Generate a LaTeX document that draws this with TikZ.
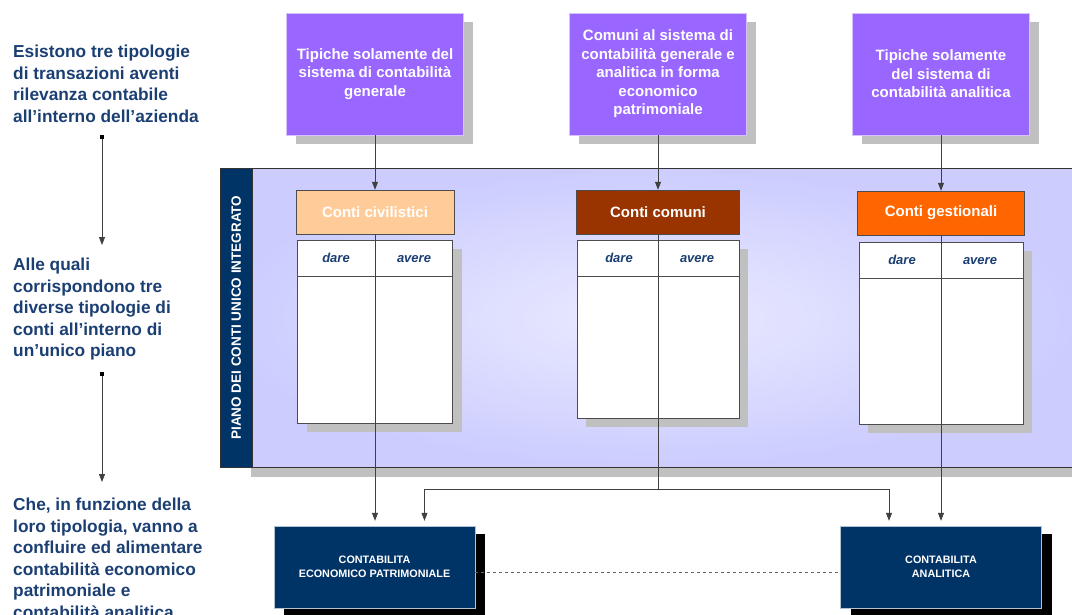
\documentclass[tikz,border=0pt]{standalone}
\usepackage{fontspec}
\setmainfont{Liberation Sans}
\usetikzlibrary{arrows.meta,shadows,positioning}

\definecolor{navy}{HTML}{003366}
\definecolor{textblue}{HTML}{1B3F73}
\definecolor{lilla}{HTML}{9966FF}
\definecolor{pesca}{HTML}{FFCC99}
\definecolor{mattone}{HTML}{993300}
\definecolor{arancio}{HTML}{FF6600}
\definecolor{pianobg}{HTML}{CCCCFF}
\definecolor{ombra}{HTML}{C0C0C0}

\begin{document}
\begin{tikzpicture}[x=1pt, y=-1pt,
    every node/.style={inner sep=0pt},
    leftnote/.style={anchor=north west, align=left, text=textblue, font=\fontsize{17.3}{21.5}\selectfont\bfseries},
    tipo/.style={fill=lilla, draw=white!60!lilla, minimum width=177pt, minimum height=122pt, align=center, text=white,
        font=\fontsize{15}{18.5}\selectfont\bfseries, drop shadow={shadow xshift=9pt, shadow yshift=-9pt, fill=ombra, opacity=1}},
    conto/.style={draw=black!70, minimum height=44pt, text=white, font=\fontsize{15}{18}\selectfont\bfseries},
    tabella/.style={draw=black!70, fill=white, anchor=north, drop shadow={shadow xshift=9pt, shadow yshift=-9pt, fill=ombra, opacity=1}},
    colonna/.style={anchor=base, text=textblue, font=\fontsize{13}{15}\selectfont\bfseries\itshape},
    contab/.style={fill=navy, draw=white!70!navy, minimum width=201pt, minimum height=82pt, align=center, text=white,
        font=\fontsize{10.8}{13.5}\selectfont\bfseries, drop shadow={shadow xshift=10pt, shadow yshift=-8pt, fill=black, opacity=1}},
    freccia/.style={draw=black!75, line width=0.8pt, -{Triangle[length=8pt,width=6pt]}},
    linea/.style={draw=black!75, line width=0.8pt}
]
    \useasboundingbox (0,0) rectangle (1072,614);
    \clip (0,0) rectangle (1072,614);

    % piano dei conti
    \fill[ombra] (251,467) rectangle (1080,477);
    \node[draw=black!80, inner color=white!60!pianobg, outer color=pianobg, minimum width=860pt, minimum height=299pt, anchor=north west] (piano) at (220,168) {};
    \node[fill=navy, draw=black!80, minimum width=32pt, minimum height=299pt, anchor=north west] (fascia) at (220,168) {};
    \node[rotate=90, text=white, font=\fontsize{13.5}{16}\selectfont\bfseries] (pianotxt) at (fascia.center) {PIANO DEI CONTI UNICO INTEGRATO};

    % note a sinistra
    \node[leftnote] (nota1) at (13,45) {Esistono tre tipologie\\di transazioni aventi\\rilevanza contabile\\all’interno dell’azienda};
    \node[leftnote] (nota2) at (13,258) {Alle quali\\corrispondono tre\\diverse tipologie di\\conti all’interno di\\un’unico piano};
    \node[leftnote] (nota3) at (13,498) {Che, in funzione della\\loro tipologia, vanno a\\confluire ed alimentare\\contabilità economico\\patrimoniale e\\contabilità analitica};
    \node[fill=black, minimum size=4pt] (q1) at (102,137) {};
    \node[fill=black, minimum size=4pt] (q2) at (102,374) {};
    \coordinate (p1) at (102,245);
    \coordinate (p2) at (102,482);
    \draw[freccia] (q1) -- (p1);
    \draw[freccia] (q2) -- (p2);

    % tipologie di transazioni
    \node[tipo] (tipo1) at (375,74) {Tipiche solamente del\\sistema di contabilità\\generale};
    \node[tipo] (tipo2) at (658,74) {Comuni al sistema di\\contabilità generale e\\analitica in forma\\economico\\patrimoniale};
    \node[tipo] (tipo3) at (941,74) {Tipiche solamente\\del sistema di\\contabilità analitica};

    % conti
    \node[conto, fill=pesca, minimum width=158pt] (civ) at (375,212) {Conti civilistici};
    \node[conto, fill=mattone, minimum width=163pt] (com) at (658,212) {Conti comuni};
    \node[conto, fill=arancio, minimum width=167pt] (ges) at (941,213) {Conti gestionali};

    \node[tabella, minimum width=155pt, minimum height=183pt] (tab1) at (375,240) {};
    \node[tabella, minimum width=162pt, minimum height=178pt] (tab2) at (658,240) {};
    \node[tabella, minimum width=164pt, minimum height=182pt] (tab3) at (941,242) {};
    \foreach \t in {tab1,tab2,tab3}
        \draw[black!70] ([yshift=-36pt]\t.north west) -- ([yshift=-36pt]\t.north east);
    \foreach \n/\x/\y in {1/375/262, 2/658/262, 3/941/264} {
        \node[colonna] (dare\n) at (\x-39,\y) {dare};
        \node[colonna] (avere\n) at (\x+39,\y) {avere};
    }

    % contabilita
    \node[contab] (ep) at (374.5,567) {CONTABILITA\\ECONOMICO PATRIMONIALE};
    \node[contab] (ana) at (941,567) {CONTABILITA\\ANALITICA};

    \draw[freccia] (tipo1) -- (civ);
    \draw[freccia] (tipo2) -- (com);
    \draw[freccia] (tipo3) -- (ges);
    \draw[freccia, shorten >=5pt] (civ.south) -- (civ.south |- ep.north);
    \draw[freccia, shorten >=5pt] (ges.south) -- (ges.south |- ana.north);
    \coordinate (nodo) at (com.south |- 0,489);
    \draw[linea] (com.south) -- (nodo);
    \draw[freccia, shorten >=5pt] (nodo) -| ([xshift=50pt]ep.north);
    \draw[freccia, shorten >=5pt] (nodo) -| ([xshift=-52pt]ana.north);
    \draw[dashed, black!60, line width=0.6pt] ([yshift=-5pt]ep.east) -- ([yshift=-5pt]ana.west);
\end{tikzpicture}
\end{document}
